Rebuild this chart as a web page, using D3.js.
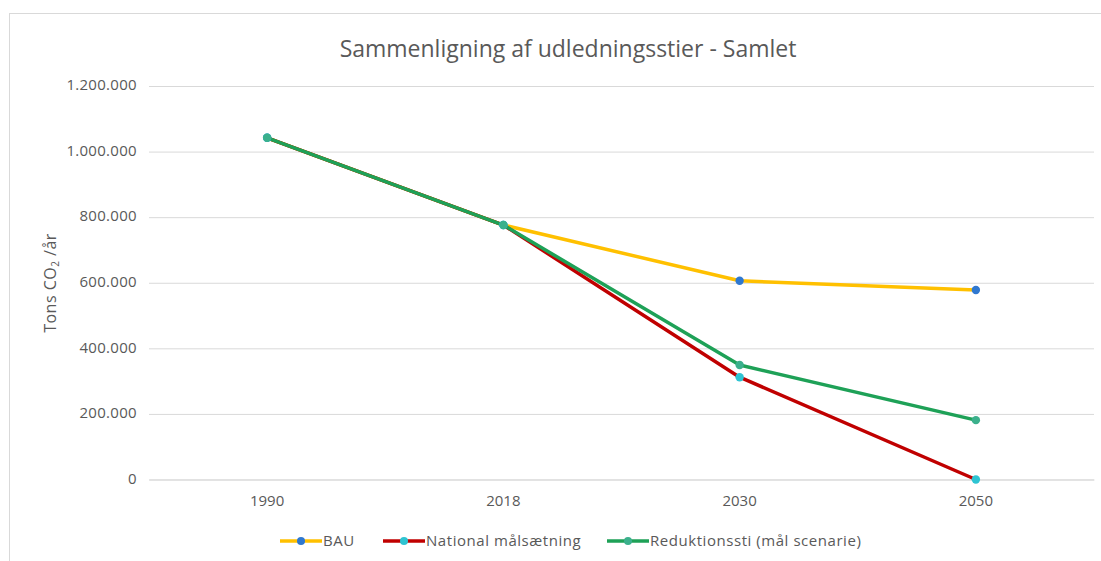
<!DOCTYPE html>
<html>
<head>
<meta charset="utf-8">
<script src="https://cdn.jsdelivr.net/npm/d3@7"></script>
<style>
  body { margin: 0; background: #fff; }
  text { font-family: "Open Sans", "Noto Sans", sans-serif; }
</style>
</head>
<body>
<script>
// data
var years = ["1990", "2018", "2030", "2050"];
var bau = [1042000, 776000, 606000, 578000];
var national = [1042000, 776000, 312000, 0];
var reduktion = [1042000, 776000, 349000, 181000];
var yTicks = [0, 200000, 400000, 600000, 800000, 1000000, 1200000];

var WIDTH = 1101, HEIGHT = 561;
var plot = {left: 149, right: 1094, top: 86, bottom: 479.5};

var series = [
  {name: "BAU", values: bau, line: "#ffc000", marker: "#2f78d0"},
  {name: "National målsætning", values: national, line: "#c00000", marker: "#2ec4d2"},
  {name: "Reduktionssti (mål scenarie)", values: reduktion, line: "#1ea157", marker: "#3bb08c"}
];

const svg = d3.select("body").append("svg")
  .attr("width", WIDTH)
  .attr("height", HEIGHT);

svg.append("rect")
  .attr("x", 9.5).attr("y", 13.5)
  .attr("width", 1100).attr("height", 560)
  .attr("fill", "#fff")
  .attr("stroke", "#d9d9d9");

const x = d3.scaleBand()
  .domain(years)
  .range([plot.left, plot.right]);

const y = d3.scaleLinear()
  .domain([0, 1200000])
  .range([plot.bottom, plot.top]);

const fmt = v => d3.format(",")(v).replace(/,/g, ".");

// gridlines + y labels
const yAxis = d3.axisLeft(y)
  .tickValues(yTicks)
  .tickSize(-(plot.right - plot.left))
  .tickPadding(12)
  .tickFormat(fmt);

const gy = svg.append("g")
  .attr("transform", `translate(${plot.left},0)`)
  .call(yAxis);
gy.select(".domain").remove();
gy.selectAll("line").attr("stroke", "#d9d9d9");
gy.selectAll("text")
  .attr("fill", "#595959")
  .attr("dy", "0.25em")
  .style("font-size", "15px")
  .style("letter-spacing", "0.3px");

// x labels
const xAxis = d3.axisBottom(x).tickSize(0).tickPadding(16);
const gx = svg.append("g")
  .attr("transform", `translate(0,${plot.bottom})`)
  .call(xAxis);
gx.select(".domain").attr("stroke", "#d9d9d9");
gx.selectAll("text")
  .attr("fill", "#595959")
  .style("font-size", "15px");

// lines
const line = d3.line()
  .x((d, i) => x(years[i]) + x.bandwidth() / 2)
  .y(d => y(d));

series.forEach(s => {
  svg.append("path")
    .datum(s.values)
    .attr("fill", "none")
    .attr("stroke", s.line)
    .attr("stroke-width", 3.5)
    .attr("stroke-linejoin", "round")
    .attr("d", line);
});

series.forEach(s => {
  svg.append("g").selectAll("circle")
    .data(s.values)
    .join("circle")
    .attr("cx", (d, i) => x(years[i]) + x.bandwidth() / 2)
    .attr("cy", d => y(d))
    .attr("r", 4.2)
    .attr("fill", s.marker);
});

// title
svg.append("text")
  .attr("x", 568)
  .attr("y", 57)
  .attr("text-anchor", "middle")
  .attr("fill", "#595959")
  .style("font-size", "23px")
  .text("Sammenligning af udledningsstier - Samlet");

// y axis title
const yt = svg.append("text")
  .attr("transform", "translate(56,283) rotate(-90)")
  .attr("text-anchor", "middle")
  .attr("fill", "#595959")
  .style("font-size", "16px")
  .style("letter-spacing", "0.5px");
yt.append("tspan").text("Tons CO");
yt.append("tspan").attr("dy", 3).style("font-size", "10px").text("2");
yt.append("tspan").attr("dy", -3).text(" /år");

// legend
const legendX = [280, 383, 607];
const legend = svg.append("g").selectAll("g")
  .data(series)
  .join("g")
  .attr("transform", (d, i) => `translate(${legendX[i]},541)`);

legend.append("line")
  .attr("x1", 0).attr("x2", 42)
  .attr("stroke", d => d.line)
  .attr("stroke-width", 3.5);
legend.append("circle")
  .attr("cx", 21).attr("r", 4)
  .attr("fill", d => d.marker);
legend.append("text")
  .attr("x", 43)
  .attr("dy", "0.35em")
  .attr("fill", "#595959")
  .style("font-size", "15px")
  .style("letter-spacing", "0.55px")
  .text(d => d.name);
</script>
</body>
</html>
